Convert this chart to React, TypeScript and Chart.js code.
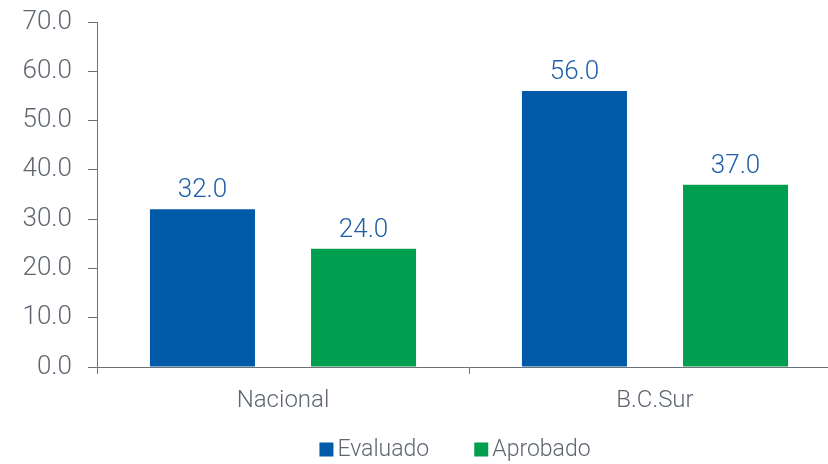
import React, { useEffect, useRef } from "react";
import { Chart, registerables } from "chart.js";

Chart.register(...registerables);

const categories = ["Nacional", "B.C.Sur"];
const evaluado = [32, 56];
const aprobado = [24, 37];
const seriesNames = ["Evaluado", "Aprobado"];

const FONT = "Roboto, 'Liberation Sans', sans-serif";
const GRAY = "#5f6670";
const AXIS = "#6b7079";

const dataLabels = {
  id: "dataLabels",
  afterDatasetsDraw(chart: any) {
    const ctx = chart.ctx;
    ctx.save();
    ctx.font = `300 26px ${FONT}`;
    ctx.fillStyle = "#1f5ea8";
    ctx.textAlign = "center";
    ctx.textBaseline = "alphabetic";
    chart.data.datasets.forEach((ds: any, i: number) => {
      const meta = chart.getDatasetMeta(i);
      meta.data.forEach((el: any, j: number) => {
        const v = ds.data[j] as number;
        ctx.fillText(v.toFixed(1), el.x, el.y - 12);
      });
    });
    ctx.restore();
  },
};

const bottomLegend = {
  id: "bottomLegend",
  afterDraw(chart: any) {
    const ctx = chart.ctx;
    const box = 14;
    const gapText = 4;
    const gapItem = 45;
    ctx.save();
    ctx.font = `300 23px ${FONT}`;
    ctx.textBaseline = "middle";
    ctx.textAlign = "left";
    const items = chart.data.datasets.map((ds: any) => ({
      label: ds.label as string,
      color: ds.backgroundColor as string,
      w: ctx.measureText(ds.label).width,
    }));
    const total =
      items.reduce((a: number, it: any) => a + box + gapText + it.w, 0) +
      gapItem * (items.length - 1);
    let x = chart.width / 2 - total / 2;
    const cy = chart.height - 14.5;
    items.forEach((it: any) => {
      ctx.fillStyle = it.color;
      ctx.fillRect(x, cy - box / 2, box, box);
      x += box + gapText;
      ctx.fillStyle = GRAY;
      ctx.fillText(it.label, x, cy + 1);
      x += it.w + gapItem;
    });
    ctx.restore();
  },
};

export default function App() {
  const ref = useRef<HTMLCanvasElement>(null);
  useEffect(() => {
    if (!ref.current) return;
    const chart = new Chart(ref.current, {
      type: "bar",
      data: {
        labels: categories,
        datasets: [
          {
            label: seriesNames[0],
            data: evaluado,
            backgroundColor: "#005aa8",
            categoryPercentage: 0.866,
            barPercentage: 0.652,
          },
          {
            label: seriesNames[1],
            data: aprobado,
            backgroundColor: "#009f4f",
            categoryPercentage: 0.866,
            barPercentage: 0.652,
          },
        ],
      },
      options: {
        responsive: false,
        animation: false,
        devicePixelRatio: 1,
        layout: { padding: { top: 22, left: 0, right: 69, bottom: 47 } },
        plugins: {
          tooltip: { enabled: false },
          legend: { display: false },
        },
        scales: {
          x: {
            afterFit: (s: any) => {
              s.height = 50;
            },
            grid: {
              display: true,
              drawOnChartArea: false,
              drawTicks: true,
              tickLength: 7,
              color: AXIS,
              lineWidth: 1,
            },
            border: { display: true, color: AXIS, width: 1 },
            ticks: {
              color: GRAY,
              padding: 13,
              font: { family: FONT, size: 24, weight: "300" as any },
            },
          },
          y: {
            min: 0,
            max: 70,
            afterFit: (s: any) => {
              s.width = 97;
              s.paddingTop = 0;
              s.paddingBottom = 0;
            },
            grid: {
              display: true,
              drawOnChartArea: false,
              drawTicks: true,
              tickLength: 9,
              color: AXIS,
              lineWidth: 1,
            },
            border: { display: true, color: AXIS, width: 1 },
            ticks: {
              stepSize: 10,
              color: GRAY,
              padding: 16,
              font: { family: FONT, size: 26, weight: "300" as any },
              callback: (v: any) => Number(v).toFixed(1),
            },
          },
        },
      },
      plugins: [dataLabels, bottomLegend],
    });
    return () => chart.destroy();
  }, []);
  return (
    <div
      style={{
        position: "absolute",
        left: 0,
        top: 0,
        width: 828,
        height: 464,
        overflow: "hidden",
        background: "#fff",
      }}
    >
      <canvas ref={ref} width={910} height={464} style={{ display: "block" }} />
    </div>
  );
}
